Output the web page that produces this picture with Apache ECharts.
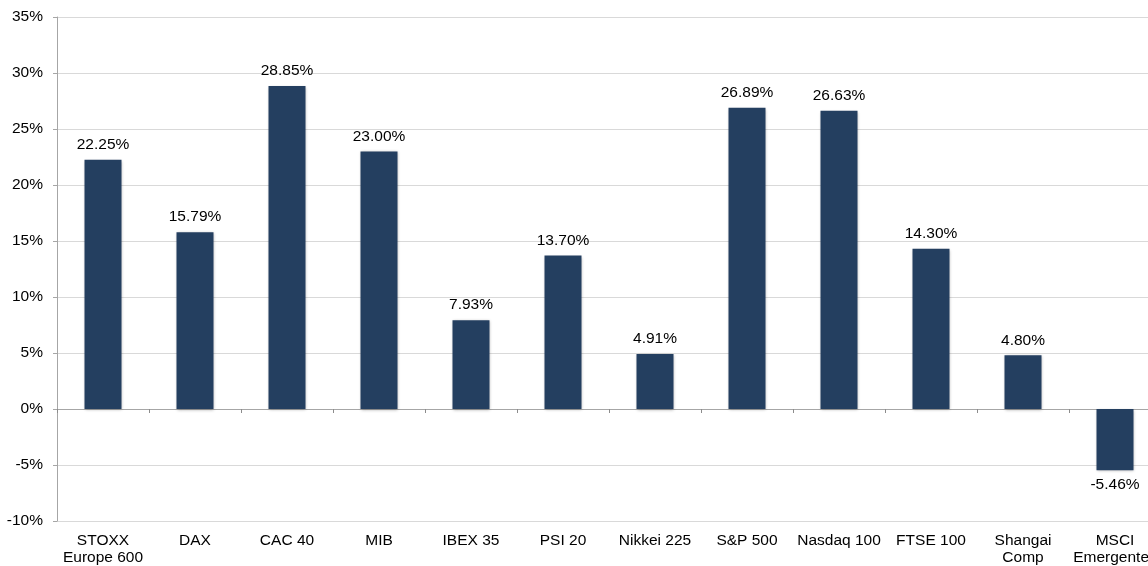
<!DOCTYPE html>
<html><head><meta charset="utf-8">
<script src="https://cdn.jsdelivr.net/npm/echarts@6/dist/echarts.min.js"></script>
<style>html,body{margin:0;padding:0;background:#fff;overflow:hidden;width:1148px;height:566px;}#c{width:1161px;height:566px;}</style>
</head><body><div id="c"></div>
<script>
const categories = ["STOXX\nEurope 600","DAX","CAC 40","MIB","IBEX 35","PSI 20","Nikkei 225","S&P 500","Nasdaq 100","FTSE 100","Shangai\nComp","MSCI\nEmergentes"];
const values = [22.25,15.79,28.85,23.00,7.93,13.70,4.91,26.89,26.63,14.30,4.80,-5.46];
const yTicks = {min:-10, max:35, interval:5};
const chart = echarts.init(document.getElementById('c'));
chart.setOption({
  animation:false,
  grid:{left:57, top:17, right:0, bottom:43, containLabel:false},
  xAxis:{type:'category', data:categories,
    axisLine:{onZero:true, lineStyle:{color:'#a6a6a6'}},
    axisTick:{show:true, alignWithLabel:false, length:4, lineStyle:{color:'#8c8c8c'}},
    axisLabel:{color:'#000', fontFamily:'Liberation Sans, Arial', fontSize:15.5, margin:11, lineHeight:17, interval:0}
  },
  yAxis:{type:'value', min:yTicks.min, max:yTicks.max, interval:yTicks.interval,
    axisLine:{show:true, lineStyle:{color:'#a6a6a6'}},
    axisTick:{show:true, length:4, lineStyle:{color:'#a6a6a6'}},
    splitLine:{lineStyle:{color:'#d9d9d9'}},
    axisLabel:{color:'#000', fontFamily:'Liberation Sans, Arial', fontSize:15.5, margin:14, formatter:v=>v+'%'}
  },
  series:[{type:'bar', data:values, barWidth:37,
    itemStyle:{color:'#243F60', shadowColor:'rgba(0,0,0,0.3)', shadowBlur:3, shadowOffsetX:0, shadowOffsetY:1},
    label:{show:true, position:'outside', color:'#000', fontFamily:'Liberation Sans, Arial', fontSize:15.5, distance:7,
      formatter:p=>p.value.toFixed(2)+'%'}
  }]
});
</script></body></html>
